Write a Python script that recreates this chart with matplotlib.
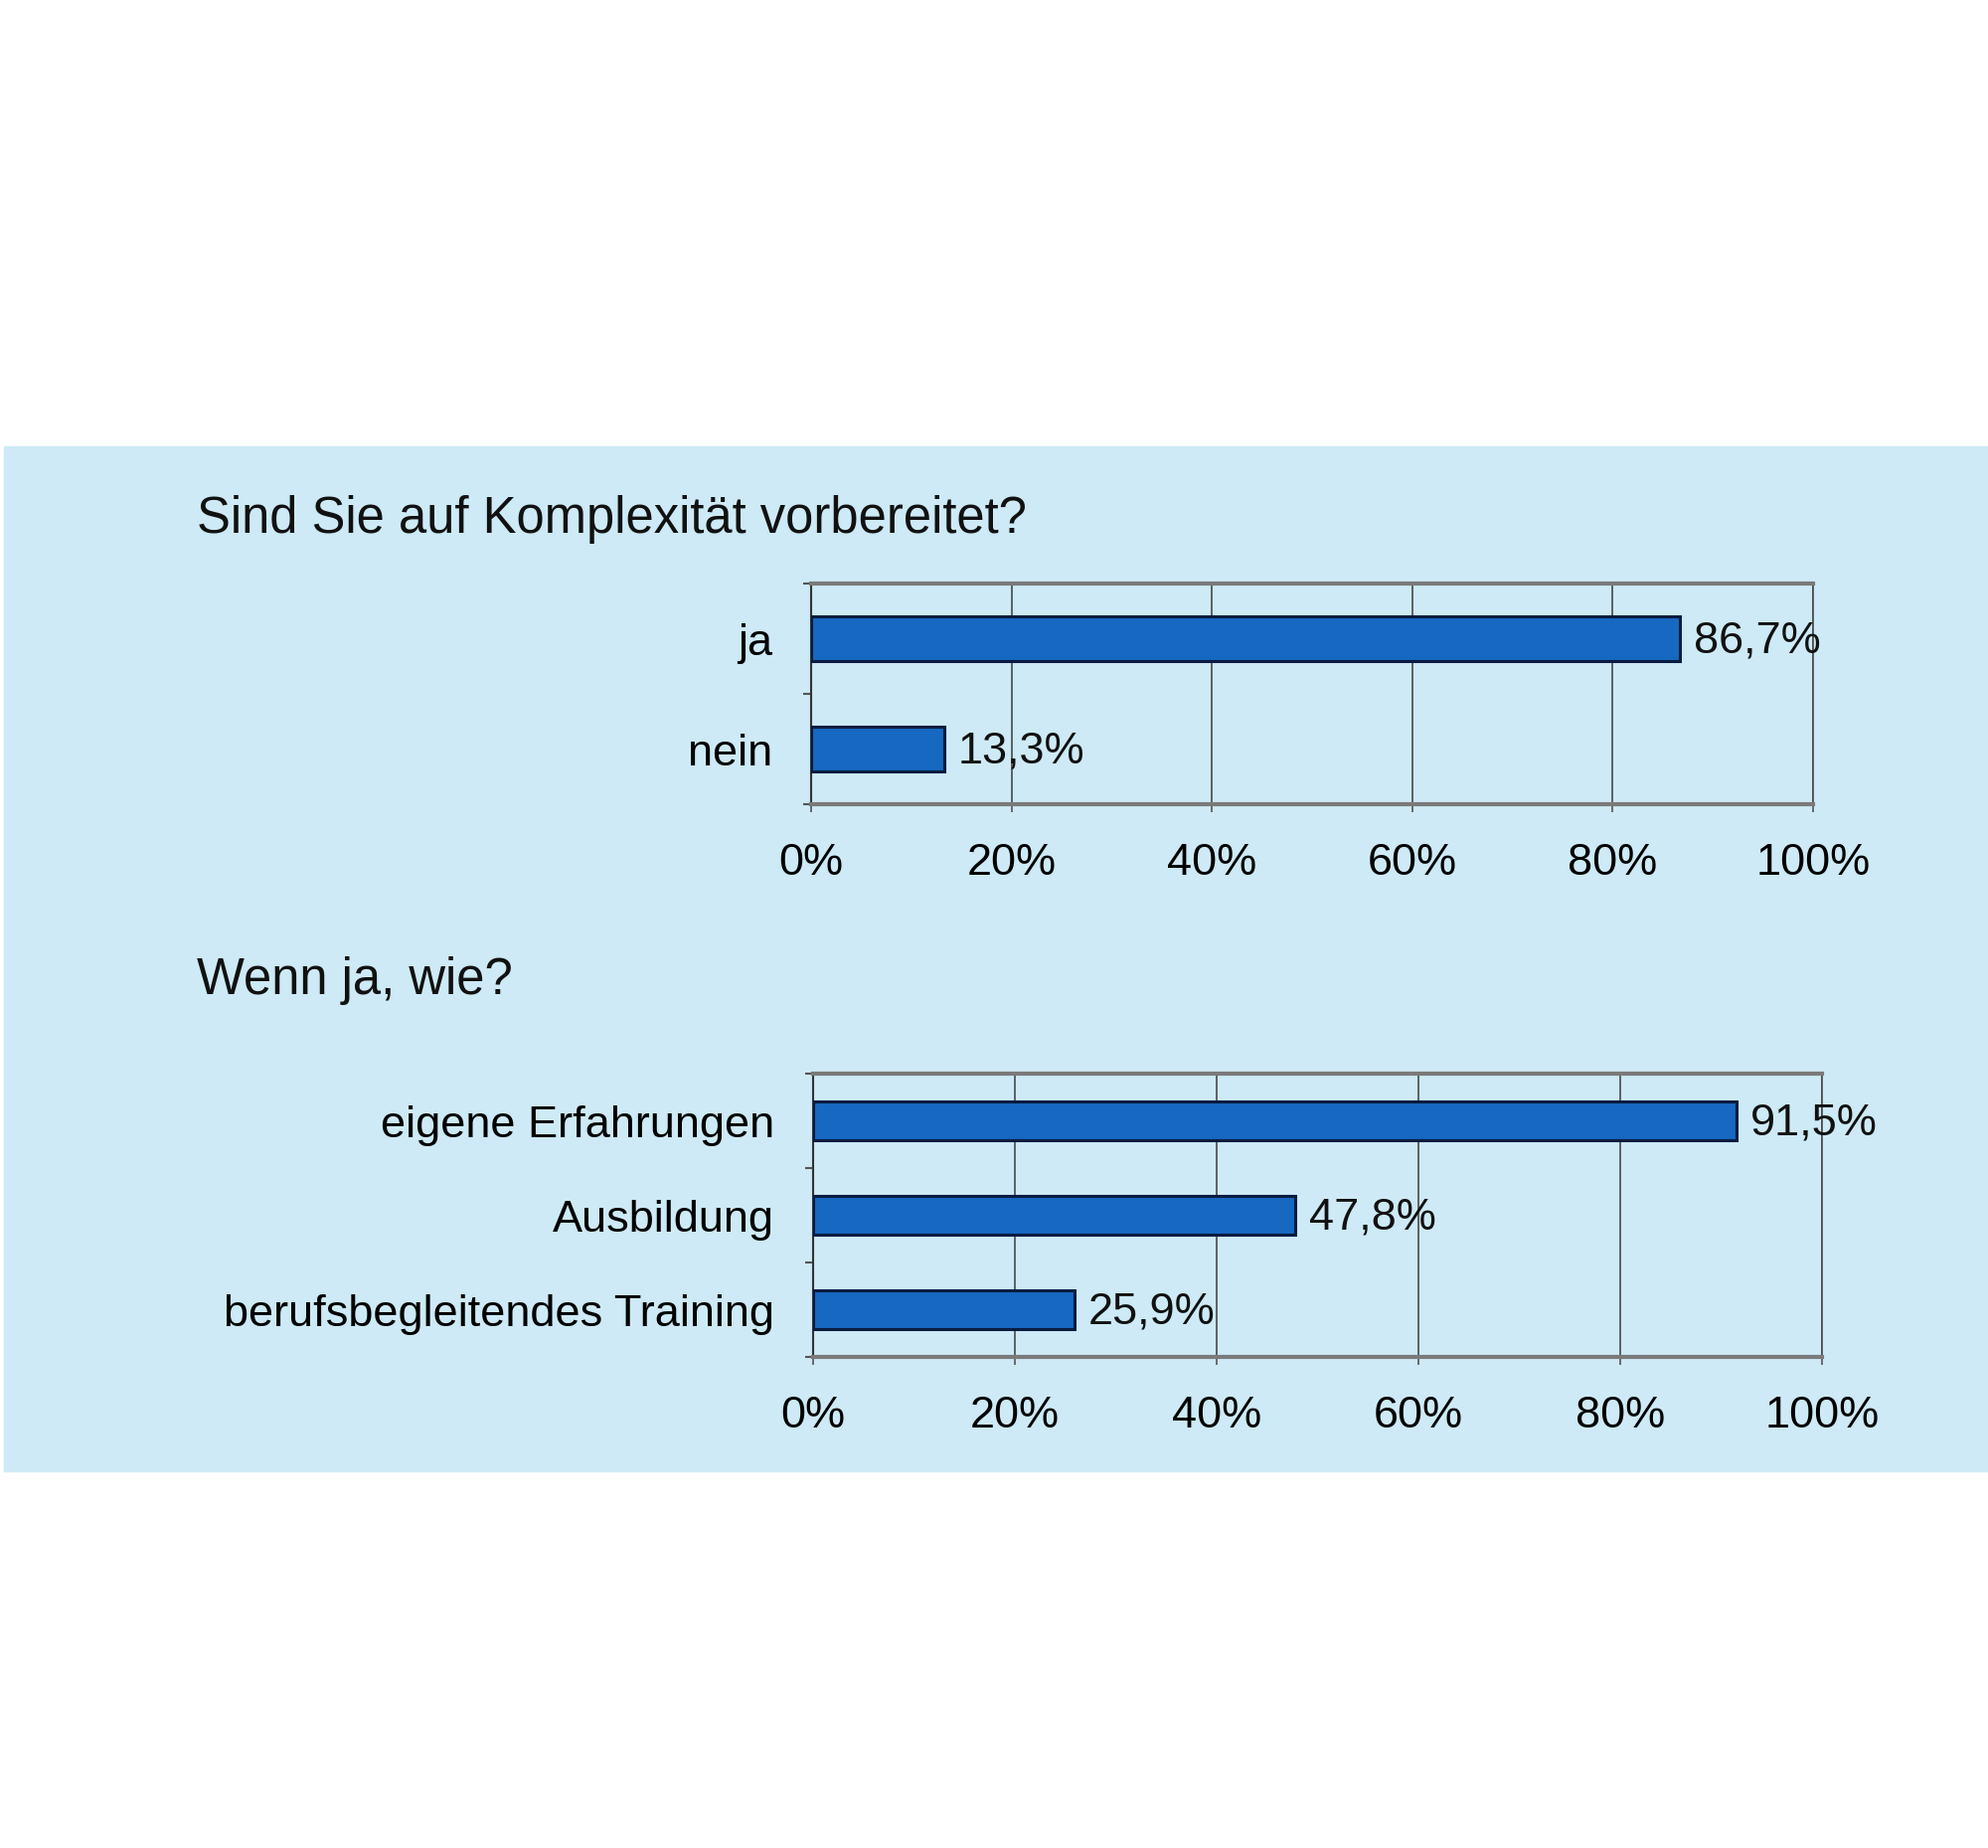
import matplotlib
matplotlib.use('Agg')
import matplotlib.pyplot as plt
from matplotlib.patches import Rectangle
import numpy as np

plt.rcParams['font.family'] = ['Liberation Sans', 'DejaVu Sans']

# data
title_1 = 'Sind Sie auf Komplexität vorbereitet?'
q1_labels = ['ja', 'nein']
q1_values = [86.7, 13.3]

title_2 = 'Wenn ja, wie?'
q2_labels = ['eigene Erfahrungen', 'Ausbildung', 'berufsbegleitendes Training']
q2_values = [91.5, 47.8, 25.9]

x_ticks = [0, 20, 40, 60, 80, 100]

panel_color = '#cdeaf6'
bar_color = '#1668c0'
edge_color = '#081c40'


def draw_bars(ax, labels, values):
    n = len(labels)
    pos = np.arange(n)
    ax.barh(pos, values, height=0.41, color=bar_color, edgecolor=edge_color,
            linewidth=2.2, zorder=3)
    for p, v in zip(pos, values):
        ax.annotate(f'{v:.1f}%'.replace('.', ','), (v, p), xytext=(10, -2),
                    textcoords='offset points', va='center', ha='left',
                    fontsize=32.5, color='#111111', zorder=4)
    ax.set_xlim(0, 100)
    ax.set_ylim(n - 0.5, -0.5)
    ax.set_facecolor('none')
    ax.set_yticks(pos)
    ax.set_yticklabels(labels)
    ax.set_yticks(np.arange(n + 1) - 0.5, minor=True)
    ax.tick_params(axis='y', which='major', length=0, pad=28, labelsize=32.5)
    ax.tick_params(axis='y', which='minor', length=6, width=1.5, color='#555555')
    ax.set_xticks(x_ticks)
    ax.set_xticklabels([f'{t}%' for t in x_ticks])
    ax.tick_params(axis='x', length=6, width=1.2, color='#555555', pad=22,
                   labelsize=32.5)
    ax.grid(axis='x', color='#4a4a4a', linewidth=1.2, zorder=1)
    ax.set_axisbelow(True)
    for s in ['top', 'bottom']:
        ax.spines[s].set_color('#7a7a7a')
        ax.spines[s].set_linewidth(3)
    ax.spines['left'].set_color('#333333')
    ax.spines['left'].set_linewidth(1.5)
    ax.spines['right'].set_color('#4a4a4a')
    ax.spines['right'].set_linewidth(1.2)


fig = plt.figure(figsize=(20, 18.59), dpi=100)
fig.patches.append(Rectangle((0.002, 0.204), 0.998, 0.5545,
                             transform=fig.transFigure, color=panel_color,
                             zorder=-1))

ax1 = fig.add_axes([0.408, 0.5648, 0.504, 0.1194])
draw_bars(ax1, q1_labels, q1_values)

ax2 = fig.add_axes([0.409, 0.2657, 0.5075, 0.1533])
draw_bars(ax2, q2_labels, q2_values)

fig.text(0.099, 0.7187, title_1, fontsize=36.5, va='center', ha='left',
         color='#111111')
fig.text(0.099, 0.4696, title_2, fontsize=36.5, va='center', ha='left',
         color='#111111')

fig.savefig('out.png', dpi=100, facecolor='white')
